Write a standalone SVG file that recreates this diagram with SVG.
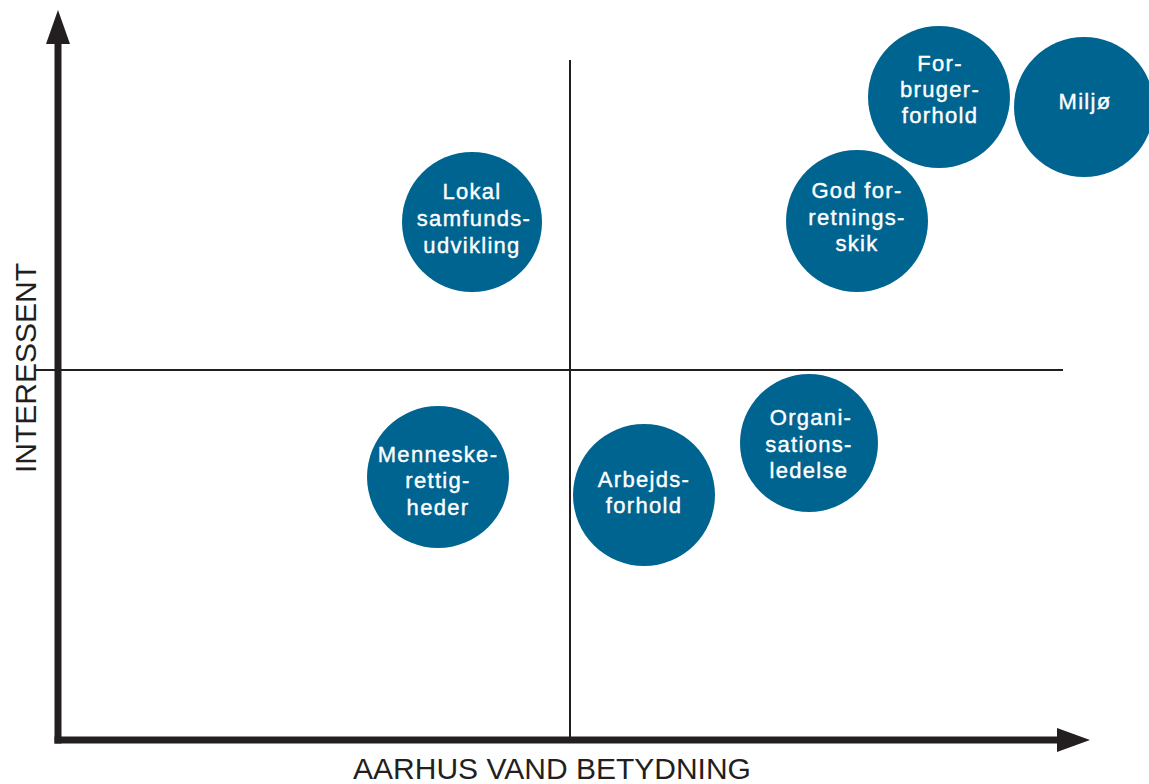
<svg xmlns="http://www.w3.org/2000/svg" width="1149" height="784" viewBox="0 0 1149 784">
<style>
.ax{stroke:#231f20;stroke-width:7;fill:none}
.q{stroke:#231f20;stroke-width:2;fill:none}
.head{fill:#231f20}
.c{fill:#006491}
.t{fill:#ffffff;stroke:#ffffff;stroke-width:0.4;font-family:"Liberation Sans",Arial,sans-serif;font-size:22px;letter-spacing:1.3px;text-anchor:middle}
.lab{fill:#231f20;font-family:"Liberation Sans",Arial,sans-serif;font-size:30px;font-weight:300;text-anchor:middle}
</style>
<rect width="1149" height="784" fill="#ffffff"/>
<g id="connectors">
<line class="q" x1="570" y1="60" x2="570" y2="737"/>
<line class="q" x1="35" y1="370" x2="1063" y2="370"/>
<line class="ax" x1="58" y1="743.5" x2="58" y2="40"/>
<polygon class="head" points="58,10 46,44 70,44"/>
<line class="ax" x1="54.5" y1="740" x2="1060" y2="740"/>
<polygon class="head" points="1090,740 1057,728 1057,752"/>
</g>
<g id="axis-labels">
<text class="lab" x="552" y="779">AARHUS VAND BETYDNING</text>
<text class="lab" transform="translate(36,368) rotate(-90)" x="0" y="0">INTERESSENT</text>
</g>
<g id="lokal">
<circle class="c" cx="472" cy="222" r="70"/>
<text class="t" x="472" y="199">Lokal</text>
<text class="t" x="474" y="226">samfunds-</text>
<text class="t" x="472" y="253">udvikling</text>
</g>
<g id="menneske">
<circle class="c" cx="438" cy="477" r="71"/>
<text class="t" x="438" y="462">Menneske-</text>
<text class="t" x="438" y="488">rettig-</text>
<text class="t" x="438" y="515">heder</text>
</g>
<g id="arbejds">
<circle class="c" cx="644" cy="495" r="71"/>
<text class="t" x="644" y="487">Arbejds-</text>
<text class="t" x="644" y="513">forhold</text>
</g>
<g id="organisation">
<circle class="c" cx="809" cy="443" r="69"/>
<text class="t" x="811" y="425">Organi-</text>
<text class="t" x="809" y="452">sations-</text>
<text class="t" x="809" y="478">ledelse</text>
</g>
<g id="god">
<circle class="c" cx="857" cy="221" r="71"/>
<text class="t" x="857" y="198">God for-</text>
<text class="t" x="857" y="225">retnings-</text>
<text class="t" x="857" y="251">skik</text>
</g>
<g id="forbruger">
<circle class="c" cx="939" cy="97" r="71"/>
<text class="t" x="940" y="71">For-</text>
<text class="t" x="940" y="97">bruger-</text>
<text class="t" x="940" y="123">forhold</text>
</g>
<g id="miljo">
<circle class="c" cx="1084" cy="107" r="70"/>
<text class="t" x="1085" y="109">Miljø</text>
</g>
</svg>
